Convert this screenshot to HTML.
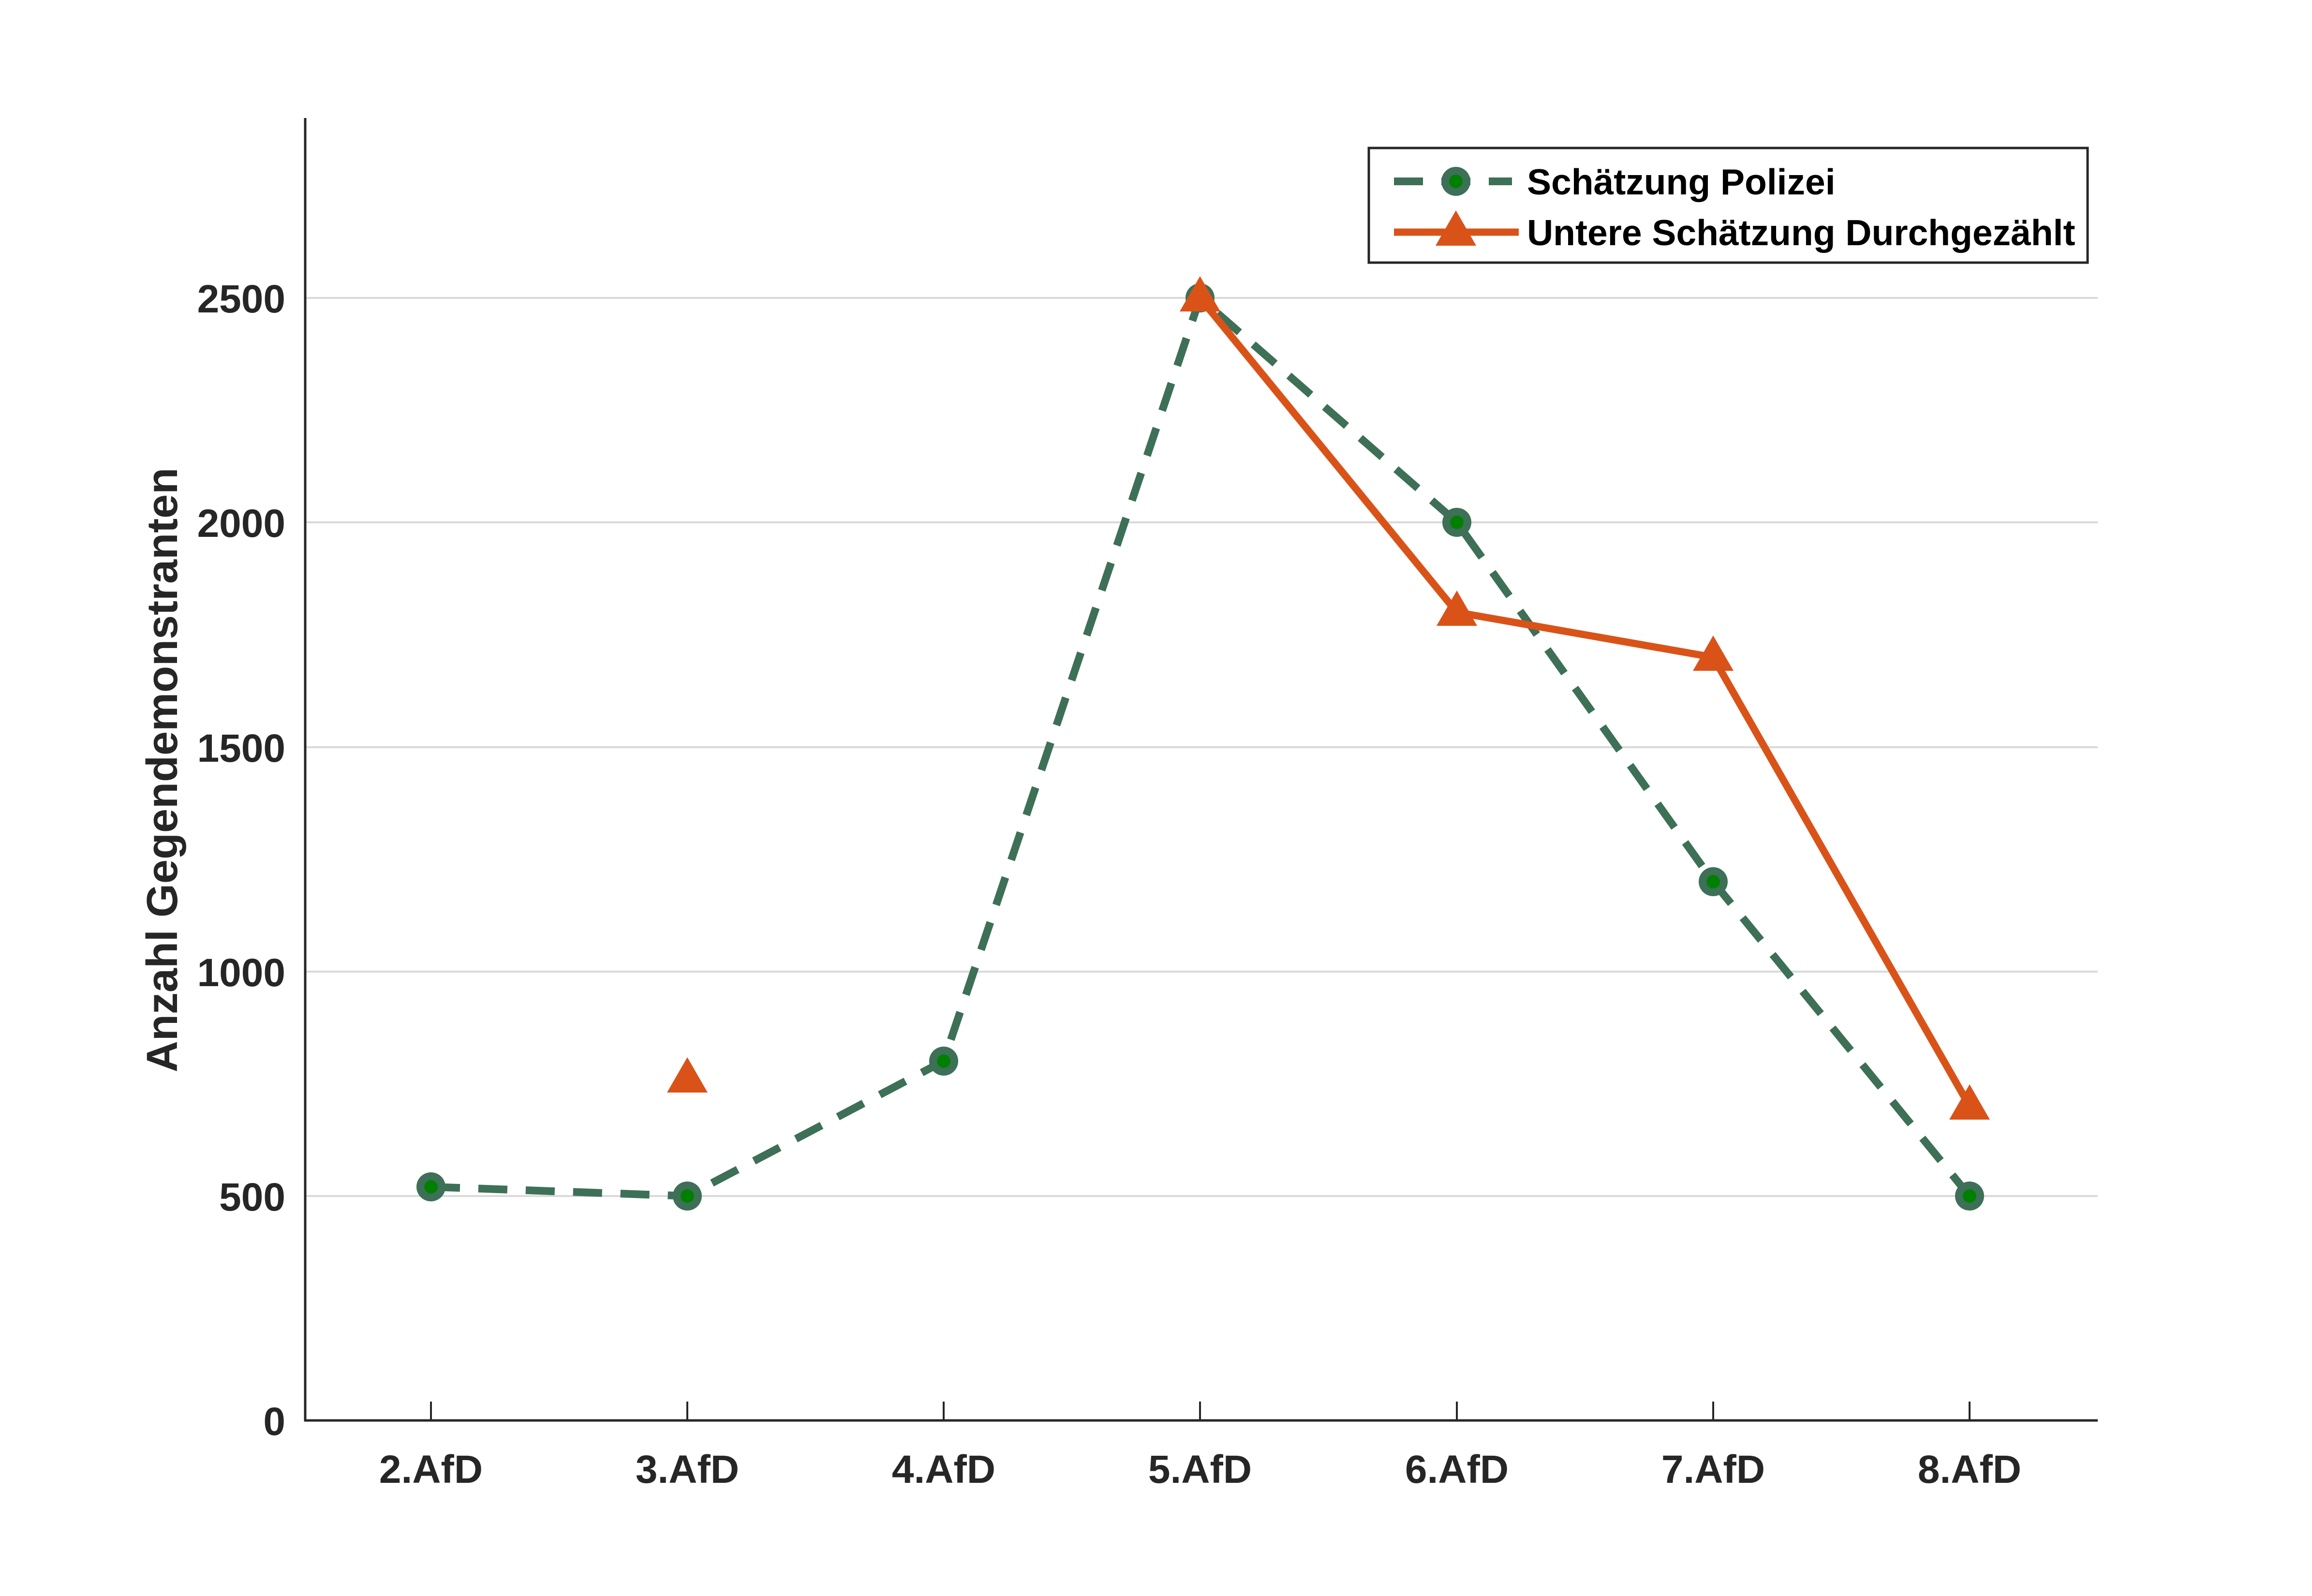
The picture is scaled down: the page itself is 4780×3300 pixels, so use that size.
<!DOCTYPE html>
<html><head><meta charset="utf-8"><style>html,body{margin:0;padding:0;background:#fff}svg{display:block}</style></head><body>
<svg width="4780" height="3300" viewBox="0 0 4780 3300" xmlns="http://www.w3.org/2000/svg" font-family="Liberation Sans, Arial, sans-serif" font-weight="bold">
<rect width="4780" height="3300" fill="#fff"/>
<g stroke="#d9d9d9" stroke-width="4">
<line x1="631" x2="4337" y1="2473" y2="2473"/>
<line x1="631" x2="4337" y1="2009" y2="2009"/>
<line x1="631" x2="4337" y1="1545" y2="1545"/>
<line x1="631" x2="4337" y1="1080" y2="1080"/>
<line x1="631" x2="4337" y1="616" y2="616"/>
</g>
<g stroke="#262626" stroke-width="5" fill="none">
<line x1="631" y1="244" x2="631" y2="2939"/>
<line x1="629" y1="2937" x2="4337" y2="2937"/>
<g stroke-width="4">
<line x1="891" x2="891" y1="2937" y2="2898"/><line x1="1421" x2="1421" y1="2937" y2="2898"/><line x1="1951" x2="1951" y1="2937" y2="2898"/><line x1="2481" x2="2481" y1="2937" y2="2898"/><line x1="3012" x2="3012" y1="2937" y2="2898"/><line x1="3542" x2="3542" y1="2937" y2="2898"/><line x1="4072" x2="4072" y1="2937" y2="2898"/>
</g></g>
<g fill="#262626" font-size="82" text-anchor="end">
<text x="590" y="2967">0</text><text x="590" y="2503">500</text><text x="590" y="2039">1000</text><text x="590" y="1575">1500</text><text x="590" y="1110">2000</text><text x="590" y="646">2500</text>
</g>
<g fill="#262626" font-size="82" text-anchor="middle">
<text x="891" y="3066">2.AfD</text><text x="1421" y="3066">3.AfD</text><text x="1951" y="3066">4.AfD</text><text x="2481" y="3066">5.AfD</text><text x="3012" y="3066">6.AfD</text><text x="3542" y="3066">7.AfD</text><text x="4072" y="3066">8.AfD</text>
</g>
<text transform="translate(366,1592) rotate(-90)" text-anchor="middle" font-size="90" fill="#262626">Anzahl Gegendemonstranten</text>
<polyline points="891,2454 1421,2473 1951,2194 2481,616 3012,1080 3542,1823 4072,2473" fill="none" stroke="#3d7057" stroke-width="16" stroke-dasharray="60 38"/>
<polyline points="2481,616 3012,1266 3542,1359 4072,2287" fill="none" stroke="#d95319" stroke-width="15"/>
<g fill="#3d7057"><circle cx="891" cy="2454" r="30"/><circle cx="1421" cy="2473" r="30"/><circle cx="1951" cy="2194" r="30"/><circle cx="2481" cy="616" r="30"/><circle cx="3012" cy="1080" r="30"/><circle cx="3542" cy="1823" r="30"/><circle cx="4072" cy="2473" r="30"/></g>
<g fill="#008000"><circle cx="891" cy="2454" r="14"/><circle cx="1421" cy="2473" r="14"/><circle cx="1951" cy="2194" r="14"/><circle cx="2481" cy="616" r="14"/><circle cx="3012" cy="1080" r="14"/><circle cx="3542" cy="1823" r="14"/><circle cx="4072" cy="2473" r="14"/></g>
<g fill="#d95319">
<polygon points="1421,2186 1463,2259 1379,2259"/>
<polygon points="2481,571 2523,644 2439,644"/>
<polygon points="3012,1221 3054,1294 2970,1294"/>
<polygon points="3542,1314 3584,1387 3500,1387"/>
<polygon points="4072,2242 4114,2315 4030,2315"/>
</g>
<rect x="2830" y="306" width="1486" height="237" fill="#fff" stroke="#262626" stroke-width="5"/>
<line x1="2882" y1="375" x2="3126" y2="375" stroke="#3d7057" stroke-width="16" stroke-dasharray="60 38"/>
<circle cx="3010" cy="375" r="30" fill="#3d7057"/><circle cx="3010" cy="375" r="14" fill="#008000"/>
<line x1="2882" y1="480" x2="3140" y2="480" stroke="#d95319" stroke-width="15"/>
<polygon points="3010,435 3052,508 2968,508" fill="#d95319"/>
<g font-size="75" fill="#000"><text x="3157" y="402">Schätzung Polizei</text><text x="3157" y="507">Untere Schätzung Durchgezählt</text></g>
</svg>
</body></html>
